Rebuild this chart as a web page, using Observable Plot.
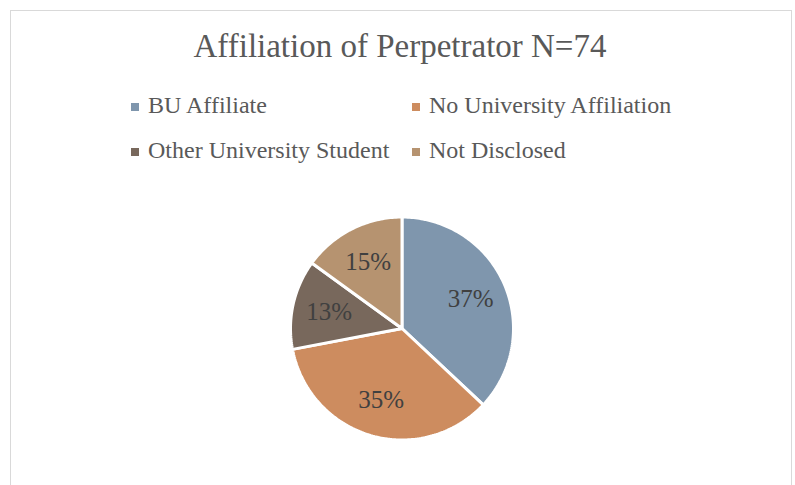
<!DOCTYPE html>
<html>
<head>
<meta charset="utf-8">
<script src="https://cdn.jsdelivr.net/npm/d3@7"></script>
<script src="https://cdn.jsdelivr.net/npm/@observablehq/plot@0.6"></script>
<style>
  html, body { margin: 0; padding: 0; background: #fff; }
  #wrap { position: relative; width: 795px; height: 485px; overflow: hidden; font-family: "Liberation Serif", serif; }
  #border { position: absolute; left: 10px; top: 10px; width: 782px; height: 600px; box-sizing: border-box; border: 1px solid #d9d9d9; }
  #title { position: absolute; left: 0; top: 26px; width: 800px; text-align: center; font-size: 33px; line-height: 40px; color: #595959; white-space: nowrap; }
  #legend { position: absolute; left: 131px; top: 90px; display: grid; grid-template-columns: 281px 281px; grid-auto-rows: 45px; }
  .item { position: relative; font-size: 24px; line-height: 30px; color: #595959; padding-left: 17px; white-space: nowrap; }
  .sw { position: absolute; left: 0; top: 13px; width: 8px; height: 8px; }
  #chart { position: absolute; left: 0; top: 180px; }
</style>
</head>
<body>
<div id="wrap">
  <div id="border"></div>
  <div id="title"></div>
  <div id="legend"></div>
  <div id="chart"></div>
</div>
<script>
const titleText = "Affiliation of Perpetrator N=74";
const categories = ["BU Affiliate", "No University Affiliation", "Other University Student", "Not Disclosed"];
const percents = [37, 35, 13, 15];
const colors = ["#7f96ad", "#cd8c5f", "#78685c", "#b69370"];

document.getElementById("title").textContent = titleText;

const legend = d3.select("#legend");
categories.forEach((c, i) => {
  const it = legend.append("div").attr("class", "item");
  it.append("span").attr("class", "sw").style("background", colors[i]);
  it.append("span").text(c);
});

// pie geometry derived from data
const arcs = d3.pie().sort(null).value(d => d)(percents);
const slices = arcs.map((a, i) => {
  const pts = [{x: 0, y: 0}];
  const n = Math.max(2, Math.ceil((a.endAngle - a.startAngle) / (Math.PI / 180)));
  for (let k = 0; k <= n; k++) {
    const t = a.startAngle + (a.endAngle - a.startAngle) * k / n;
    pts.push({x: Math.sin(t), y: Math.cos(t)});
  }
  return pts;
});
const labels = arcs.map((a, i) => {
  const m = (a.startAngle + a.endAngle) / 2;
  return {x: 0.67 * Math.sin(m), y: 0.67 * Math.cos(m), text: percents[i] + "%"};
});

const cx = 401.5, cy = 148, R = 111.5;
const chart = Plot.plot({
  width: 795,
  height: 305,
  margin: 0,
  x: {domain: [-1, 1], range: [cx - R, cx + R], axis: null},
  y: {domain: [-1, 1], range: [cy + R, cy - R], axis: null},
  style: {background: "transparent", overflow: "visible"},
  marks: [
    ...slices.map((pts, i) => Plot.line(pts, {x: "x", y: "y", fill: colors[i], stroke: "white", strokeWidth: 3, curve: "linear-closed", strokeLinejoin: "miter"})),
    Plot.text(labels, {x: "x", y: "y", text: "text", fontSize: 25, fill: "#404040", fontFamily: "Liberation Serif"})
  ]
});
document.getElementById("chart").appendChild(chart);
</script>
</body>
</html>
